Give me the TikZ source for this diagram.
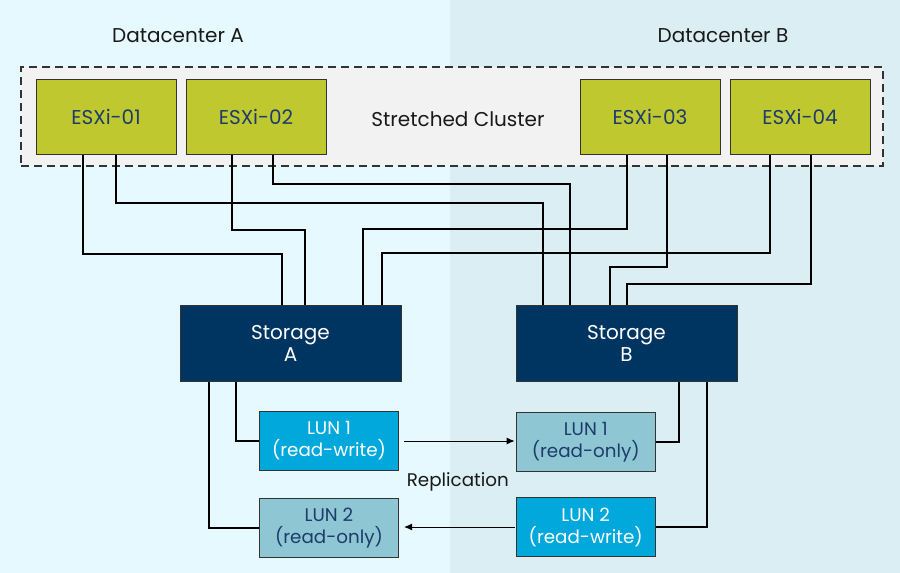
\documentclass[tikz,border=0pt]{standalone}
\usepackage{fontspec}
\setmainfont{Poppins}
\usetikzlibrary{positioning,arrows.meta}
\definecolor{bgA}{HTML}{E6F9FE}
\definecolor{bgB}{HTML}{DAEEF3}
\definecolor{clusterGrey}{HTML}{F2F2F2}
\definecolor{esxiGreen}{HTML}{BFC92F}
\definecolor{navy}{HTML}{003461}
\definecolor{lunBlue}{HTML}{00A8DC}
\definecolor{lunGrey}{HTML}{8EC6D4}
\definecolor{txtBlue}{HTML}{1D3C6C}
\tikzset{
  box/.style={draw=black!80, line width=1pt, inner sep=0pt, align=center,
    minimum width=140pt, minimum height=75pt, font=\fontsize{20}{22}\selectfont},
  esxi/.style={box, fill=esxiGreen, text=txtBlue},
  storage/.style={box, fill=navy, text=white, minimum width=221pt, minimum height=76pt},
  lunrw/.style={box, fill=lunBlue, text=white, minimum width=139pt, minimum height=59pt,
    font=\fontsize{18.3}{22}\selectfont},
  lunro/.style={lunrw, fill=lunGrey, text=txtBlue},
  link/.style={line width=1.6pt},
  repl/.style={line width=1pt, -{Latex[length=8pt,width=7pt]}},
  label/.style={font=\fontsize{20}{22}\selectfont, text=black!90},
}
\begin{document}
\begin{tikzpicture}[x=1pt,y=-1pt]
	% two datacenters
	\fill[bgA] (0,0) rectangle (450,573);
	\fill[bgB] (450,0) rectangle (900,573);
	\useasboundingbox (0,0) rectangle (900,573);
	\node[label] (dca) at (178,36) {Datacenter A};
	\node[label] (dcb) at (723,36) {Datacenter B};
	% stretched cluster
	\node[draw=black!80, fill=clusterGrey, line width=1.2pt, dash pattern=on 8pt off 5pt,
		minimum width=862pt, minimum height=99pt] (cl) at (452,116.5) {};
	\node[label] (sc) at (458,119) {Stretched Cluster};
	\node[esxi] (e1) at (106,116.5) {ESXi-01};
	\node[esxi, right=9pt of e1] (e2) {ESXi-02};
	\node[esxi] (e3) at (650,116.5) {ESXi-03};
	\node[esxi, right=9pt of e3] (e4) {ESXi-04};
	% storage and luns
	\node[storage] (sa) at (290.5,343) {Storage\\A};
	\node[storage] (sb) at (626.5,343) {Storage\\B};
	\node[lunrw] (l1a) at (329,441) {LUN 1\\(read-write)};
	\node[lunro] (l1b) at (585.7,442) {LUN 1\\(read-only)};
	\node[lunro, below=27pt of l1a] (l2a) {LUN 2\\(read-only)};
	\node[lunrw] (l2b) at (585.7,527) {LUN 2\\(read-write)};
	\node[label, font=\fontsize{18.3}{22}\selectfont] (rep) at (457.8,482.3) {Replication};
	% host to storage paths
	\foreach \s/\xa/\ym/\xb/\t in {e1/83/254/282/sa, e1/116/203/543/sb,
		e2/232/230/305/sa, e2/273/184/570/sb, e3/627/229/363/sa,
		e4/770/253/382/sa, e3/667/267/610/sb, e4/811/284/627/sb}
		\draw[link] (\xa,0 |- \s.south) |- (\xb,\ym) -- (\xb,0 |- \t.north);
	% storage to luns
	\draw[link] (236,0 |- sa.south) |- (l1a.west);
	\draw[link] (209,0 |- sa.south) |- (l2a.west);
	\draw[link] (679,0 |- sb.south) |- (l1b.east);
	\draw[link] (707,0 |- sb.south) |- (l2b.east);
	% replication
	\draw[repl, shorten <=5pt, shorten >=1pt] (l1a.east) -- (l1a.east -| l1b.west);
	\draw[repl, shorten <=1pt, shorten >=5pt] (l2b.west) -- (l2b.west -| l2a.east);
\end{tikzpicture}
\end{document}
